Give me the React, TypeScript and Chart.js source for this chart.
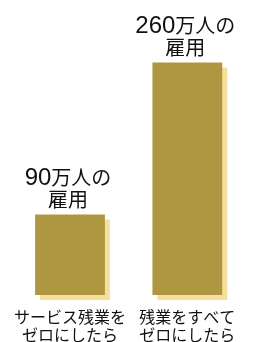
import React, { useEffect, useRef } from "react";
import { Chart, registerables } from "chart.js";

Chart.register(...registerables);

const categories: string[][] = [
  ["サービス残業を", "ゼロにしたら"],
  ["残業をすべて", "ゼロにしたら"],
];
const jobs: number[] = [90, 260];
const valueUnit = "万人の";
const valueSecondLine = "雇用";

const BAR_COLOR = "#AF9741";
const SHADOW_COLOR = "#F6DF9C";
const FONT = '"Liberation Sans", "Noto Sans CJK JP", sans-serif';

const shadowPlugin = {
  id: "solidShadow",
  beforeDatasetsDraw(chart: any) {
    const ctx = chart.ctx;
    ctx.save();
    ctx.shadowColor = SHADOW_COLOR;
    ctx.shadowOffsetX = 5;
    ctx.shadowOffsetY = 5;
    ctx.shadowBlur = 0;
  },
  afterDatasetsDraw(chart: any) {
    chart.ctx.restore();
  },
};

const labelPlugin = {
  id: "topLabels",
  afterDatasetsDraw(chart: any) {
    const ctx = chart.ctx;
    const meta = chart.getDatasetMeta(0);
    meta.data.forEach((bar: any, i: number) => {
      const num = String(jobs[i]);
      ctx.save();
      ctx.fillStyle = "#111";
      ctx.textBaseline = "alphabetic";
      ctx.textAlign = "left";
      ctx.font = `24px ${FONT}`;
      const wNum = ctx.measureText(num).width;
      ctx.font = `20px "Noto Sans CJK JP", sans-serif`;
      const wUnit = ctx.measureText(valueUnit).width;
      const total = wNum + wUnit;
      const x0 = bar.x - 2 - total / 2;
      const y1 = bar.y - 30;
      ctx.font = `24px ${FONT}`;
      ctx.fillText(num, x0, y1);
      ctx.font = `20px "Noto Sans CJK JP", sans-serif`;
      ctx.fillText(valueUnit, x0 + wNum, y1);
      ctx.textAlign = "center";
      ctx.fillText(valueSecondLine, bar.x - 2, bar.y - 8);
      ctx.restore();
    });
  },
};

export default function App() {
  const ref = useRef<HTMLCanvasElement | null>(null);
  useEffect(() => {
    document.documentElement.style.overflow = "hidden";
    document.body.style.margin = "0";
    document.body.style.overflow = "hidden";
    const canvas = ref.current!;
    const chart = new Chart(canvas, {
      type: "bar",
      data: {
        labels: categories,
        datasets: [
          {
            data: jobs,
            backgroundColor: BAR_COLOR,
            borderWidth: 0,
            barPercentage: 1,
            categoryPercentage: 0.595,
            clip: false,
          } as any,
        ],
      },
      options: {
        responsive: false,
        animation: false,
        devicePixelRatio: 1,
        layout: { padding: { left: 4, right: 13, top: 0, bottom: 0 } },
        plugins: {
          legend: { display: false },
          tooltip: { enabled: false },
        },
        scales: {
          x: {
            grid: { display: false, drawTicks: false },
            border: { display: false },
            ticks: {
              color: "#111",
              padding: 13,
              maxRotation: 0,
              autoSkip: false,
              font: { family: '"Noto Sans CJK JP", sans-serif', size: 16, lineHeight: 1.125 },
            },
          },
          y: {
            display: false,
            min: 0,
            max: 330,
          },
        },
      },
      plugins: [shadowPlugin, labelPlugin],
    });
    return () => chart.destroy();
  }, []);
  return (
    <div style={{ width: 259, height: 342, overflow: "hidden" }}>
      <canvas ref={ref} width={259} height={357} style={{ display: "block" }} />
    </div>
  );
}
